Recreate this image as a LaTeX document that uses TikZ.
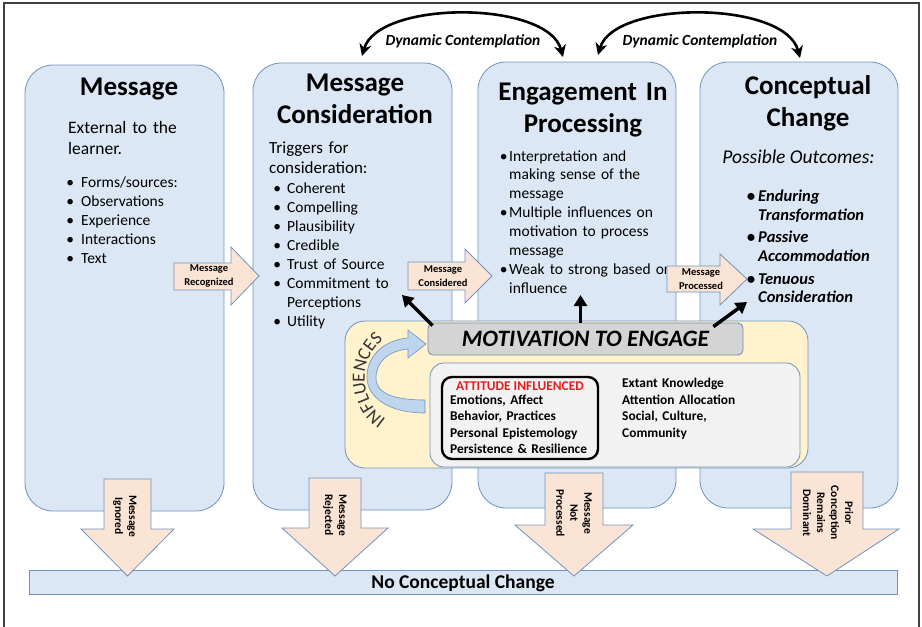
\documentclass[tikz,border=0pt]{standalone}
\usepackage{fontspec}
\setmainfont{Carlito}
\usetikzlibrary{arrows.meta,calc,decorations.text}

\definecolor{panelblue}{RGB}{219,231,244}
\definecolor{paneledge}{RGB}{112,146,190}
\definecolor{peach}{RGB}{250,228,213}
\definecolor{cream}{RGB}{255,242,204}
\definecolor{motivgray}{RGB}{212,212,212}
\definecolor{boxgray}{RGB}{242,242,242}
\definecolor{arcblue}{RGB}{189,214,238}
\definecolor{attred}{RGB}{228,30,30}

% bullet hanging left of the text, #1 = gap before the text
\newcommand{\pbul}[1][0pt]{\leavevmode\llap{\textbullet\hspace{#1}}}

\begin{document}
\begin{tikzpicture}[x=1pt, y=-1pt,
  panel/.style={draw=paneledge, fill=panelblue, line width=0.8pt, rounded corners=28pt, inner sep=0pt},
  titletext/.style={font=\fontsize{27}{32.5}\selectfont\bfseries, align=center, text width=196pt, inner sep=0pt, anchor=base},
  bodytext/.style={font=\fontsize{17.5}{21}\selectfont, align=left, text width=160pt, inner sep=0pt, anchor=base west},
  listtext/.style={font=\fontsize{15.5}{19}\selectfont, align=left, text width=185pt, inner sep=0pt, anchor=base west},
  blockarrow/.style={draw=paneledge, fill=peach, line width=0.8pt},
  arrowtext/.style={font=\fontsize{10.5}{13.5}\selectfont\bfseries, align=center, inner sep=0pt},
  downtext/.style={font=\fontsize{11.5}{14}\selectfont\bfseries, align=center, inner sep=0pt, rotate=-90},
  push/.style={line width=3.5pt, -{Triangle[length=11pt,width=13pt]}},
  dynarrow/.style={line width=2.6pt, {Stealth[length=12pt,width=12pt]}-{Stealth[length=12pt,width=12pt]}},
  dyntext/.style={font=\fontsize{15.5}{18}\selectfont\bfseries\itshape, anchor=base, inner sep=0pt},
  infotext/.style={font=\fontsize{13.4}{16.4}\selectfont\bfseries, align=left, text width=170pt, inner sep=0pt, anchor=base west}
]
\useasboundingbox (0,0) rectangle (922,627);

% Outer frame
\draw[line width=1.2pt, black!75] (4,627) -- (4,3) -- (919,3) -- (919,627);

% Draw the four stages
\node[panel, minimum width=199pt, minimum height=446pt] (msg) at (124.5,288) {};
\node[panel, minimum width=199pt, minimum height=447pt] (con) at (352.5,286.5) {};
\node[panel, minimum width=198pt, minimum height=446pt] (eng) at (577,285) {};
\node[panel, minimum width=198pt, minimum height=446pt] (cc) at (799,285) {};

% Stage texts
\node[titletext] (msgT) at (129,95) {Message};
\node[bodytext] (msgB) at (68,133) {External to the\\learner.};
\node[listtext] (msgL) at (81,187.5) {\pbul[7pt]Forms/sources:\\\pbul[7pt]Observations\\\pbul[7pt]Experience\\\pbul[7pt]Interactions\\\pbul[7pt]Text};

\node[titletext] (conT) at (355,91) {Message\\Consideration};
\node[bodytext, font=\fontsize{17}{20}\selectfont] (conB) at (269,153) {Triggers for\\consideration:};
\node[listtext] (conL) at (287,193) {\pbul[6pt]Coherent\\\pbul[6pt]Compelling\\\pbul[6pt]Plausibility\\\pbul[6pt]Credible\\\pbul[6pt]Trust of Source\\\pbul[6pt]Commitment to\\Perceptions\\\pbul[6pt]Utility};

\node[titletext] (engT) at (583,100) {Engagement In\\Processing};
\node[listtext, font=\fontsize{15.5}{18.9}\selectfont] (engL) at (509,161) {\pbul[1.5pt]Interpretation and\\making sense of the\\message\\\pbul[1.5pt]Multiple influences on\\motivation to process\\message\\\pbul[1.5pt]Weak to strong based on\\influence};

\node[titletext] (ccT) at (808,94) {Conceptual\\Change};
\node[anchor=base, inner sep=0pt, font=\fontsize{19.5}{22}\selectfont\itshape] (ccO) at (798.5,163) {Possible Outcomes:};
\node[listtext, font=\fontsize{16.5}{18.8}\selectfont\bfseries\itshape] (ccL) at (758,201.5) {\pbul[3pt]Enduring\\Transformation\\[3.7pt]\pbul[3pt]Passive\\Accommodation\\[3.7pt]\pbul[3pt]Tenuous\\Consideration};

% Forward arrows between stages
\draw[blockarrow] (174,263) -- (231,263) -- (231,247) -- (259,276) -- (231,305) -- (231,290) -- (174,290) -- cycle;
\node[arrowtext] (recT) at (209,276) {Message\\Recognized};
\draw[blockarrow] (408,262) -- (465,262) -- (465,249) -- (492,276) -- (465,303) -- (465,290) -- (408,290) -- cycle;
\node[arrowtext] (consT) at (443,276) {Message\\Considered};
\draw[blockarrow] (667,266) -- (720,266) -- (720,254) -- (747,279) -- (720,305) -- (720,292) -- (667,292) -- cycle;
\node[arrowtext] (procT) at (701,279) {Message\\Processed};

% Influences block
\node[draw=paneledge, fill=cream, line width=0.8pt, rounded corners=20pt, minimum width=463pt, minimum height=147pt] (infl) at (576.5,394.5) {};
\node[draw=paneledge, fill=boxgray, line width=0.8pt, rounded corners=14pt, minimum width=370pt, minimum height=104pt] (factors) at (615,415) {};
\node[draw=paneledge!60!gray, fill=motivgray, line width=0.8pt, rounded corners=5pt, minimum width=315pt, minimum height=32pt, inner sep=0pt, font=\fontsize{23.5}{23.5}\selectfont\bfseries\itshape] (motiv) at (585.5,339) {MOTIVATION TO ENGAGE};
\node[draw=black, line width=2.4pt, rounded corners=10pt, minimum width=156pt, minimum height=82pt] (att) at (520,418) {};
\node[anchor=base, inner sep=0pt, text=attred, font=\fontsize{13.4}{16}\selectfont\bfseries] (attH) at (520,390) {ATTITUDE INFLUENCED};
\node[infotext] (attL) at (450,404.3) {Emotions, Affect\\Behavior, Practices\\Personal Epistemology\\Persistence \& Resilience};
\node[infotext, font=\fontsize{13.4}{16.8}\selectfont\bfseries] (extL) at (622,387.3) {Extant Knowledge\\Attention Allocation\\Social, Culture,\\Community};

% Motivation pushes each stage
\coordinate (tipL) at (402,295);
\coordinate (tipM) at (580.5,295);
\coordinate (tipR) at (747,302);
\draw[push] ($(motiv.north west)+(5,3)$) -- (tipL);
\draw[push] ($(motiv.north)+(-5,0)$) -- (tipM);
\draw[push] ($(motiv.north east)+(-30,4)$) -- (tipR);

% Curved influence arrow and its label
\draw[draw=paneledge, fill=arcblue, line width=0.6pt] (408,338) -- (408,330) -- (426,344) -- (408,358) -- (408,349)
  .. controls (388,351) and (376,362) .. (376,378)
  .. controls (376,394) and (395,400) .. (425,400)
  -- (425,413)
  .. controls (390,413) and (367,398) .. (367,377)
  .. controls (367,355) and (385,340) .. (408,338) -- cycle;
\path[decorate, decoration={text along path, text align=center, text color=black!80,
  text={|\fontsize{18.5}{18.5}\selectfont|INFLUENCES}}]
  (397.5,425.5) arc[start angle=250, end angle=114, radius=50pt];

% Outcome with no change
\node[draw=paneledge, fill=panelblue, line width=0.8pt, minimum width=868pt, minimum height=24pt, inner sep=0pt, text depth=0pt, font=\fontsize{19.5}{20}\selectfont\bfseries] (noCC) at (463,582) {No Conceptual Change};

\draw[blockarrow] (104,479) -- (151,479) -- (151,529) -- (174,529) -- (127.5,576) -- (81,529) -- (104,529) -- cycle;
\node[downtext] (ignT) at (125,516) {Message\\Ignored};
\draw[blockarrow] (309,478) -- (361,478) -- (361,528) -- (388,528) -- (335,576) -- (282,528) -- (309,528) -- cycle;
\node[downtext] (rejT) at (335,515) {Message\\Rejected};
\draw[blockarrow] (545,473) -- (603,473) -- (603,525) -- (633,525) -- (574,576) -- (515,525) -- (545,525) -- cycle;
\node[downtext] (notT) at (574,513) {Message\\Not\\Processed};
\draw[blockarrow] (791,472) -- (863,472) -- (863,529) -- (899,529) -- (827,576) -- (753,529) -- (791,529) -- cycle;
\node[downtext] (priT) at (828,513) {Prior\\Conception\\Remains\\Dominant};

% Dynamic contemplation loops
\coordinate (dcA) at (362,56);
\coordinate (dcB) at (563,57);
\coordinate (dcC) at (598,55);
\coordinate (dcD) at (800,58);
\draw[dynarrow] (dcA) .. controls (378,0) and (548,0) .. (dcB);
\draw[dynarrow] (dcC) .. controls (614,0) and (785,0) .. (dcD);
\node[dyntext] (dcT1) at (463,45) {Dynamic Contemplation};
\node[dyntext] (dcT2) at (700,45) {Dynamic Contemplation};
\end{tikzpicture}
\end{document}
